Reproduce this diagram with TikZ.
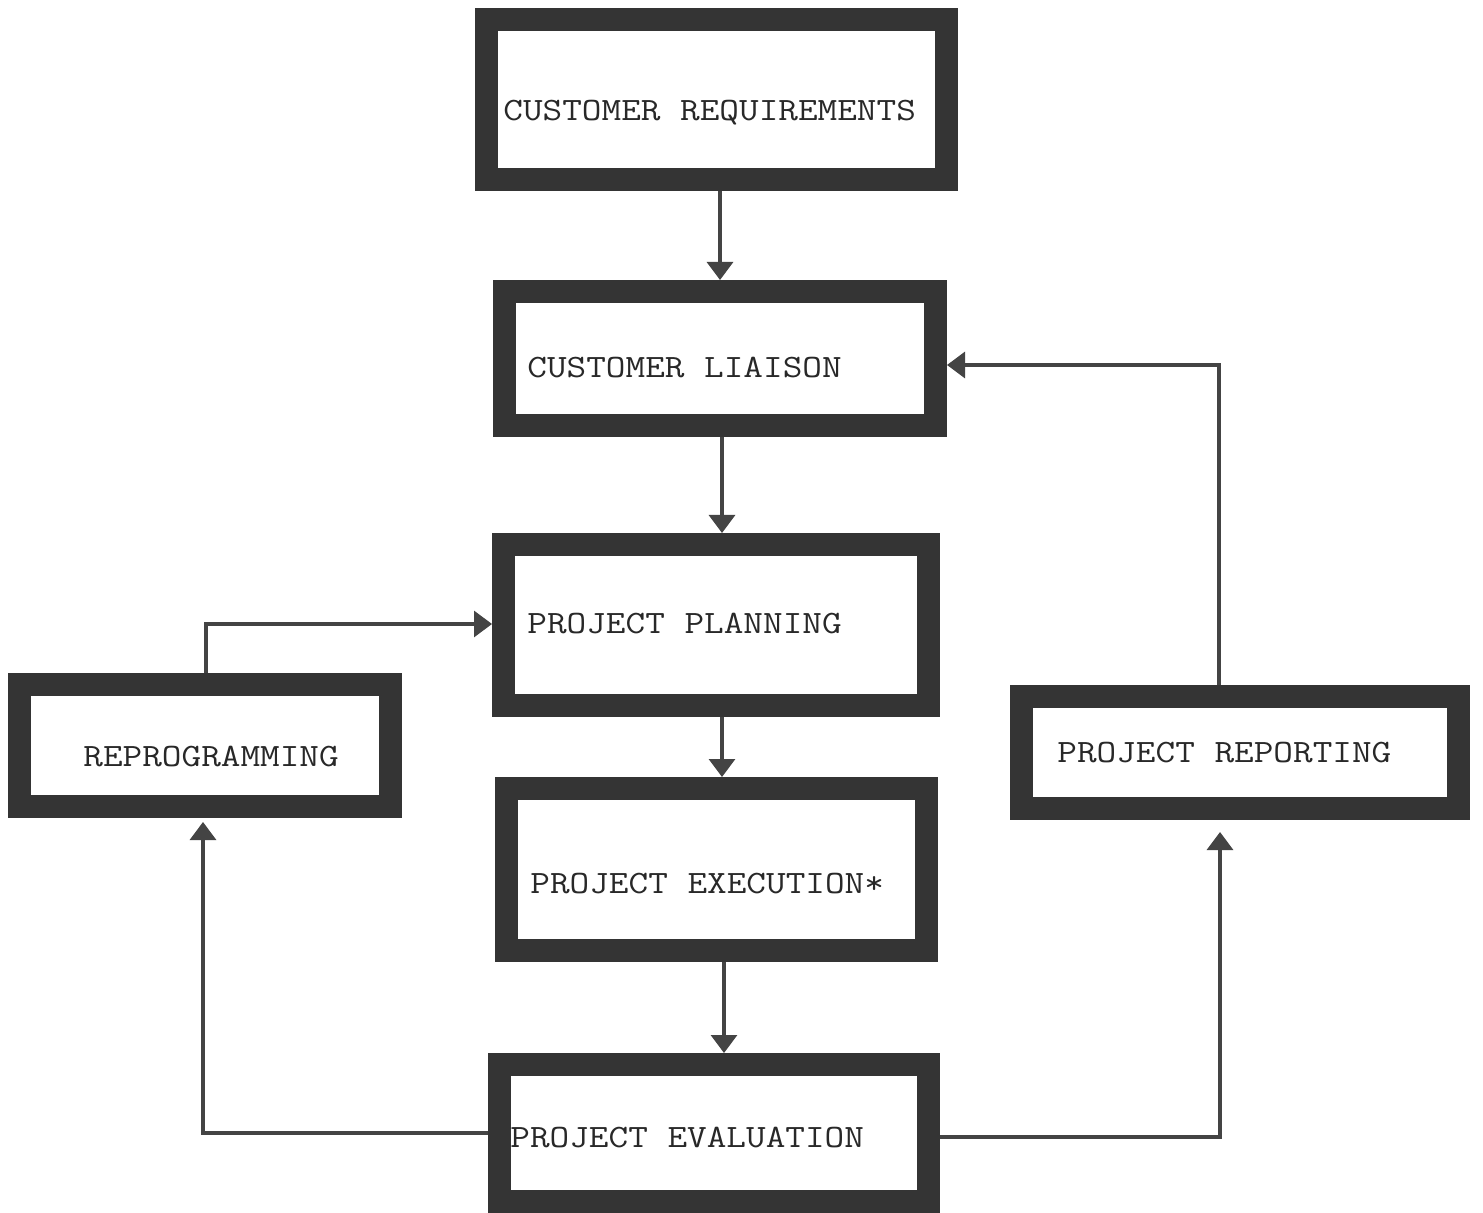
\documentclass[tikz,border=0pt]{standalone}
\usepackage{fontspec}
\usepackage{graphicx}
\usetikzlibrary{arrows.meta,fit}
\definecolor{boxgray}{RGB}{52,52,52}
\definecolor{linegray}{RGB}{68,68,68}
\definecolor{inkgray}{RGB}{40,40,40}
\newcommand{\twtext}[1]{\scalebox{1.17}[1]{#1}}
\begin{document}
\begin{tikzpicture}[x=0.5pt,y=-0.5pt,
  box/.style={draw=boxgray, line width=11.5pt, fill=white, inner sep=0pt, rectangle},
  lbl/.style={font=\ttfamily\fontsize{16.3pt}{18pt}\selectfont, text=inkgray, inner sep=0pt, anchor=base west},
  arr/.style={draw=linegray, line width=1.6pt, -{Triangle[length=9pt,width=13pt]}}]
\useasboundingbox[fill=white] (0,0) rectangle (1483,1213);

% boxes
\node[box, fit={(486.5,19.5) (946.5,179.5)}] (cr) {};
\node[box, fit={(504.5,291.5) (935.5,425.5)}] (cl) {};
\node[box, fit={(503.5,544.5) (928.5,705.5)}] (pp) {};
\node[box, fit={(506.5,788.5) (926.5,950.5)}] (pe) {};
\node[box, fit={(499.5,1064.5) (928.5,1201.5)}] (pev) {};
\node[box, fit={(19.5,684.5) (390.5,806.5)}] (reprog) {};
\node[box, fit={(1021.5,696.5) (1458.5,808.5)}] (report) {};

% labels
\node[lbl] (crt) at (503,121) {\twtext{CUSTOMER REQUIREMENTS}};
\node[lbl] (clt) at (527,378) {\twtext{CUSTOMER LIAISON}};
\node[lbl] (ppt) at (527,633) {\twtext{PROJECT PLANNING}};
\node[lbl] (pet) at (530,893) {\twtext{PROJECT EXECUTION*}};
\node[lbl] (pevt) at (510,1147) {\twtext{PROJECT EVALUATION}};
\node[lbl] (reprogt) at (83,766) {\twtext{REPROGRAMMING}};
\node[lbl] (reportt) at (1057,762) {\twtext{PROJECT REPORTING}};

% connectors
\draw[arr] (cr.south -| 720,0) -- (cl.north -| 720,0);
\draw[arr] (cl.south -| 722,0) -- (pp.north -| 722,0);
\draw[arr] (pp.south -| 722,0) -- (pe.north -| 722,0);
\draw[arr] (pe.south -| 724,0) -- (pev.north -| 724,0);
\draw[arr, shorten >=2pt] (pev.west) -| (reprog.south -| 203,0);
\draw[arr] (reprog.north -| 206,0) |- (pp.west |- 0,624);
\draw[arr, shorten >=6pt] (pev.east |- 0,1137) -| (report.south -| 1220,0);
\draw[arr] (report.north -| 1219,0) |- (cl.east |- 0,365);
\end{tikzpicture}
\end{document}
